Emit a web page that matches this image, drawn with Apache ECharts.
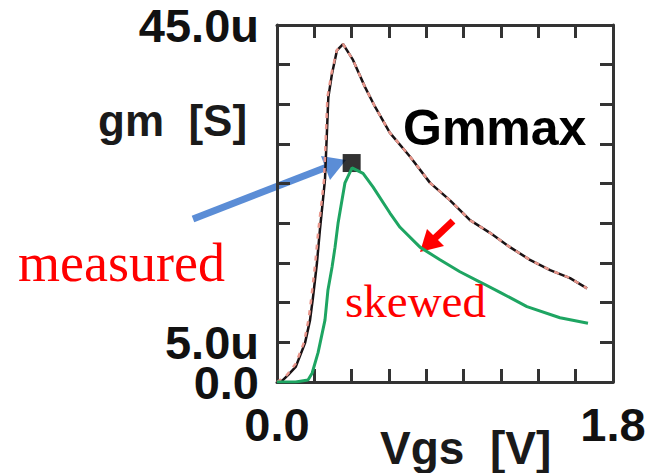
<!DOCTYPE html>
<html>
<head>
<meta charset="utf-8">
<script src="https://cdn.jsdelivr.net/npm/echarts@6/dist/echarts.min.js"></script>
<style>
  * { margin: 0; padding: 0; }
  #chart-container { width: 653px; height: 473px; background: #fff; }
</style>
</head>
<body>
<div id="chart-container"></div>
<script>
  // values in volts / micro-siemens
  var vgsMeasured = [0, 0.03, 0.06, 0.10, 0.15, 0.177, 0.193, 0.214, 0.230, 0.246, 0.257, 0.268, 0.275, 0.295, 0.321, 0.354, 0.407, 0.471, 0.525, 0.605, 0.713, 0.820, 0.927, 1.034, 1.141, 1.248, 1.355, 1.463, 1.570, 1.661]
  var gmMeasured = [0, 0.2, 0.9, 1.9, 4.9, 7.8, 10.7, 15.0, 19.2, 22.9, 25.5, 31.8, 35.9, 38.9, 41.8, 42.6, 40.6, 37.2, 34.7, 31.4, 28.4, 25.1, 22.9, 20.4, 18.8, 17.0, 15.4, 14.1, 13.1, 11.8]
  var vgsModel = [0, 0.05, 0.10, 0.145, 0.170, 0.186, 0.205, 0.222, 0.240, 0.252, 0.263, 0.270, 0.292, 0.320, 0.354, 0.407, 0.471, 0.525, 0.605, 0.713, 0.820, 0.927, 1.034, 1.141, 1.248, 1.355, 1.463, 1.570, 1.661]
  var gmModel = [0, 0.8, 2.3, 5.0, 8.0, 11.0, 15.0, 19.2, 22.9, 25.5, 31.8, 35.9, 38.9, 41.8, 42.6, 40.6, 37.2, 34.7, 31.4, 28.4, 25.1, 22.9, 20.4, 18.8, 17.0, 15.4, 14.1, 13.1, 11.8]
  var vgsSkewed = [0, 0.10, 0.166, 0.188, 0.220, 0.257, 0.273, 0.295, 0.311, 0.327, 0.348, 0.364, 0.402, 0.461, 0.514, 0.605, 0.659, 0.766, 0.873, 0.980, 1.088, 1.195, 1.339, 1.516, 1.666]
  var gmSkewed = [0, 0, 0.25, 1.1, 3.7, 7.8, 11.6, 14.5, 17.0, 20.0, 22.9, 25.1, 27.0, 26.3, 24.6, 21.3, 19.5, 17.0, 15.4, 13.9, 12.6, 11.3, 9.5, 8.1, 7.4]
  var gmmaxPoint = [0.40, 27.6]
  var yTickLabels = { 0: '0.0', 45: '45.0u' }
  var yInnerTickLabels = { 5: '5.0u' }
  var xTickLabels = ['0.0', '1.8']

  function pairs(xs, ys) {
    return xs.map(function (x, i) { return [x, ys[i]] })
  }

  var chartDom = document.getElementById('chart-container')
  var myChart = echarts.init(chartDom, null, { renderer: 'svg' })

  var frameLine = { onZero: false, lineStyle: { color: '#333', width: 3 } }
  var tick = { show: true, inside: true, length: 13, lineStyle: { color: '#333', width: 3 } }
  var labelFont = { fontFamily: 'Liberation Sans', fontWeight: 'bold', fontSize: 47, lineHeight: 34, color: '#111', hideOverlap: false }

  var option = {
    animation: false,
    grid: { left: 277, right: 40, top: 25, bottom: 91 },
    xAxis: [
      {
        type: 'value', min: 0, max: 1.8, interval: 0.2, position: 'bottom',
        axisLine: frameLine, axisTick: tick, splitLine: { show: false },
        axisLabel: Object.assign({
          margin: 25,
          showMinLabel: true, showMaxLabel: true,
          formatter: function (v) {
            if (Math.abs(v) < 1e-6) return xTickLabels[0]
            if (Math.abs(v - 1.8) < 1e-6) return xTickLabels[1]
            return ''
          }
        }, labelFont)
      },
      {
        type: 'value', min: 0, max: 1.8, interval: 0.2, position: 'top',
        axisLine: frameLine, axisTick: tick, splitLine: { show: false },
        axisLabel: { show: false }
      }
    ],
    yAxis: [
      {
        type: 'value', min: 0, max: 45, interval: 5, position: 'left',
        axisLine: frameLine, axisTick: tick, splitLine: { show: false },
        axisLabel: Object.assign({
          margin: 18,
          showMinLabel: true, showMaxLabel: true,
          formatter: function (v) { return yTickLabels[Math.round(v)] || '' }
        }, labelFont)
      },
      {
        type: 'value', min: 0, max: 45, interval: 5, position: 'right',
        axisLine: frameLine, axisTick: tick, splitLine: { show: false },
        axisLabel: { show: false }
      },
      {
        // second label layer on the left for 5.0u (v6 drops it next to 0.0 otherwise)
        type: 'value', min: 0, max: 45, interval: 5, position: 'left', offset: 0,
        axisLine: { show: false }, axisTick: { show: false }, splitLine: { show: false },
        axisLabel: Object.assign({
          margin: 18,
          showMinLabel: false, showMaxLabel: false,
          formatter: function (v) { return yInnerTickLabels[Math.round(v)] || '' }
        }, labelFont)
      }
    ],
    series: [
      {
        type: 'line', name: 'measured', data: pairs(vgsMeasured, gmMeasured),
        showSymbol: false, lineStyle: { color: '#1a1214', width: 2.5 }
      },
      {
        type: 'line', name: 'model', data: pairs(vgsModel, gmModel),
        showSymbol: false, lineStyle: { color: '#e8958a', width: 2.5, type: [5, 6] }
      },
      {
        type: 'line', name: 'skewed', data: pairs(vgsSkewed, gmSkewed),
        showSymbol: false, lineStyle: { color: '#1ea562', width: 3 }
      },
      {
        type: 'scatter', name: 'Gmmax', data: [gmmaxPoint],
        symbol: 'rect', symbolSize: 18, itemStyle: { color: '#000' }
      }
    ],
    graphic: [
      { type: 'text', left: 98, top: 98, style: { text: 'gm  [S]', font: 'bold 44px "Liberation Sans"', fill: '#1a1a1a' } },
      { type: 'text', left: 380, top: 425, style: { text: 'Vgs  [V]', font: 'bold 46px "Liberation Sans"', fill: '#1a1a1a' } },
      { type: 'text', left: 403, top: 103, style: { text: 'Gmmax', font: 'bold 50px "Liberation Sans"', fill: '#000' } },
      { type: 'text', left: 18, top: 236, style: { text: 'measured', font: '54px "Liberation Serif"', fill: '#ff0000' } },
      { type: 'text', left: 345, top: 277, style: { text: 'skewed', font: '47px "Liberation Serif"', fill: '#ff0000' } },
      // blue arrow to Gmmax
      { type: 'line', shape: { x1: 193, y1: 219, x2: 327, y2: 167 }, style: { stroke: '#5b8dd6', lineWidth: 7 } },
      { type: 'polygon', shape: { points: [[346, 160], [321, 156], [330, 180]] }, style: { fill: '#5b8dd6' } },
      // red arrow to skewed curve
      { type: 'line', shape: { x1: 453, y1: 221, x2: 435, y2: 238 }, style: { stroke: '#ff0000', lineWidth: 7 } },
      { type: 'polygon', shape: { points: [[420, 252], [427, 229], [444, 246]] }, style: { fill: '#ff0000' } }
    ]
  }
  myChart.setOption(option)
  window.addEventListener('resize', myChart.resize)
</script>
</body>
</html>
